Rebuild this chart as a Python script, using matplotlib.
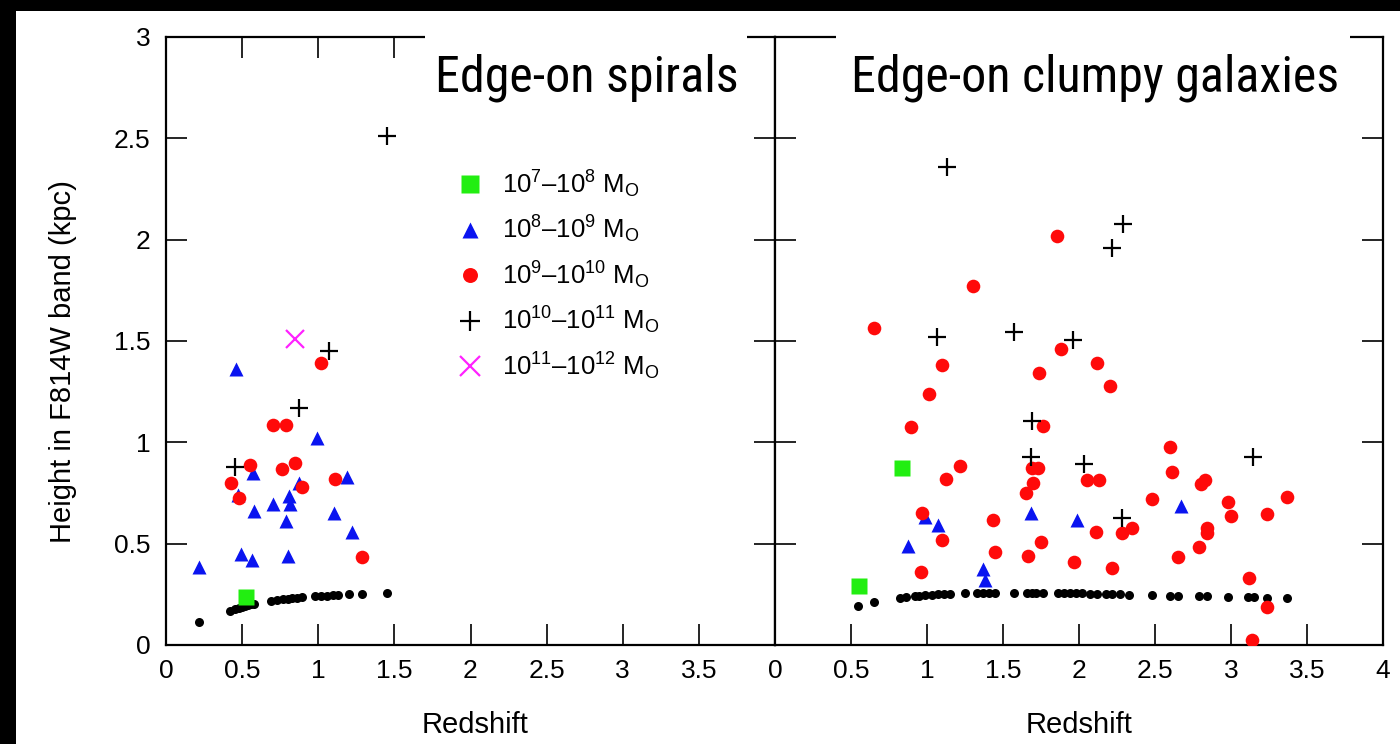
import numpy as np
import matplotlib
matplotlib.use("Agg")
import matplotlib.pyplot as plt
from matplotlib.patches import Rectangle

plt.rcParams['font.family'] = ['Liberation Sans', 'DejaVu Sans']
plt.rcParams['mathtext.fontset'] = 'custom'
plt.rcParams['mathtext.rm'] = 'Liberation Sans'

# ---- left panel: edge-on spirals ----
sp_dot_z = [0.22, 0.42, 0.45, 0.48, 0.50, 0.52, 0.54, 0.56, 0.58, 0.69, 0.73, 0.77,
            0.80, 0.83, 0.86, 0.89, 0.98, 1.02, 1.06, 1.10, 1.13, 1.20, 1.29, 1.45]
sp_dot_h = [0.115, 0.170, 0.178, 0.184, 0.188, 0.192, 0.196, 0.200, 0.203, 0.215, 0.220, 0.225,
            0.228, 0.231, 0.234, 0.236, 0.240, 0.242, 0.243, 0.245, 0.246, 0.250, 0.252, 0.256]
sp_m7_z = [0.525]
sp_m7_h = [0.235]
sp_m8_z = [0.46, 0.99, 0.57, 1.19, 0.875, 0.47, 0.70, 0.81, 0.815, 0.58, 1.105, 0.79, 1.22,
           0.49, 0.565, 0.80, 0.22]
sp_m8_h = [1.36, 1.02, 0.85, 0.83, 0.80, 0.74, 0.695, 0.735, 0.695, 0.66, 0.65, 0.61, 0.56,
           0.45, 0.42, 0.44, 0.385]
sp_m9_z = [1.02, 0.70, 0.79, 0.55, 0.76, 0.85, 1.11, 0.43, 0.895, 0.48, 1.29]
sp_m9_h = [1.39, 1.085, 1.085, 0.89, 0.87, 0.90, 0.82, 0.80, 0.78, 0.725, 0.435]
sp_m10_z = [1.07, 0.875, 0.45, 1.45]
sp_m10_h = [1.45, 1.17, 0.88, 2.51]
sp_m11_z = [0.85]
sp_m11_h = [1.51]

# ---- right panel: edge-on clumpy galaxies ----
cl_dot_z = [0.545, 0.65, 0.82, 0.86, 0.92, 0.95, 0.99, 1.03, 1.07, 1.11, 1.15, 1.25, 1.33, 1.37,
            1.41, 1.45, 1.57, 1.66, 1.69, 1.72, 1.76, 1.86, 1.90, 1.94, 1.98, 2.02, 2.07, 2.12,
            2.18, 2.22, 2.27, 2.33, 2.48, 2.60, 2.65, 2.79, 2.84, 2.98, 3.11, 3.15, 3.24, 3.37]
cl_dot_h = [0.19, 0.21, 0.23, 0.235, 0.24, 0.243, 0.245, 0.248, 0.25, 0.252, 0.253, 0.255, 0.256,
            0.257, 0.257, 0.257, 0.258, 0.258, 0.258, 0.258, 0.258, 0.257, 0.257, 0.256, 0.256,
            0.255, 0.254, 0.253, 0.252, 0.251, 0.250, 0.249, 0.247, 0.244, 0.243, 0.241, 0.240,
            0.238, 0.236, 0.235, 0.233, 0.230]
cl_m7_z = [0.835, 0.55]
cl_m7_h = [0.873, 0.29]
cl_m8_z = [0.99, 1.07, 1.685, 1.99, 0.875, 1.37, 1.38, 2.67]
cl_m8_h = [0.63, 0.59, 0.65, 0.615, 0.49, 0.375, 0.32, 0.686]
cl_m9_z = [1.30, 0.65, 1.88, 1.10, 1.74, 1.01, 0.895, 1.76, 1.22, 1.125, 1.69, 1.73, 2.05, 1.70,
           1.65, 0.97, 1.435, 1.10, 1.75, 1.45, 1.665, 1.97, 0.96, 1.855, 2.12, 2.205, 2.60,
           2.13, 2.61, 2.80, 2.83, 3.37, 2.48, 2.98, 3.00, 3.24, 2.11, 2.28, 2.35, 2.84, 2.84,
           2.22, 2.65, 2.79, 3.12, 3.24, 3.14]
cl_m9_h = [1.77, 1.565, 1.46, 1.38, 1.34, 1.24, 1.075, 1.08, 0.883, 0.82, 0.875, 0.875, 0.815,
           0.80, 0.75, 0.65, 0.615, 0.52, 0.51, 0.46, 0.44, 0.41, 0.36, 2.02, 1.39, 1.28, 0.977,
           0.815, 0.853, 0.795, 0.815, 0.73, 0.72, 0.705, 0.636, 0.646, 0.557, 0.552, 0.577,
           0.577, 0.552, 0.38, 0.434, 0.484, 0.33, 0.187, 0.025]
cl_m10_z = [1.13, 2.29, 2.22, 1.065, 1.57, 1.96, 1.69, 1.685, 2.03, 3.145, 2.28]
cl_m10_h = [2.36, 2.077, 1.96, 1.52, 1.545, 1.505, 1.105, 0.928, 0.893, 0.928, 0.627]

mass_labels = [r'$\mathregular{10^7}$–$\mathregular{10^8}$ $\mathregular{M_O}$',
               r'$\mathregular{10^8}$–$\mathregular{10^9}$ $\mathregular{M_O}$',
               r'$\mathregular{10^9}$–$\mathregular{10^{10}}$ $\mathregular{M_O}$',
               r'$\mathregular{10^{10}}$–$\mathregular{10^{11}}$ $\mathregular{M_O}$',
               r'$\mathregular{10^{11}}$–$\mathregular{10^{12}}$ $\mathregular{M_O}$']

fig = plt.figure(figsize=(14, 7.44), dpi=100)
W, H = 1400, 744
ax1 = fig.add_axes([166 / W, 99 / H, 609 / W, 608 / H])
ax2 = fig.add_axes([775 / W, 99 / H, 608 / W, 608 / H])


def draw(ax, dz, dh, z7, h7, z8, h8, z9, h9, z10, h10, z11=None, h11=None):
    ax.plot(dz, dh, 'o', color='black', ms=6.5, mec='none', zorder=2)
    ax.plot(z7, h7, 's', color='#22ee11', ms=12, mec='none', zorder=3, label=mass_labels[0])
    ax.plot(z8, h8, '^', color='#0a14f0', ms=10.5, mec='none', zorder=4, label=mass_labels[1])
    ax.plot(z9, h9, 'o', color='#ff0a0a', ms=9.8, mec='none', zorder=5, label=mass_labels[2])
    ax.plot(z10, h10, '+', color='black', ms=13, mew=1.6, zorder=6, label=mass_labels[3])
    if z11 is not None:
        ax.plot(z11, h11, 'x', color='#ff22ff', ms=13, mew=1.6, zorder=7, label=mass_labels[4])
    ax.set_xlim(0, 4)
    ax.set_ylim(0, 3)
    for s in ax.spines.values():
        s.set_linewidth(1.6)
    ax.tick_params(direction='in', length=15, width=1.2, top=True, right=True,
                   labelsize=19)
    ax.tick_params(axis='x', pad=10)
    ax.tick_params(axis='y', pad=11)
    ax.set_xlabel('Redshift', fontsize=21, labelpad=20)


draw(ax1, sp_dot_z, sp_dot_h, sp_m7_z, sp_m7_h, sp_m8_z, sp_m8_h, sp_m9_z, sp_m9_h,
     sp_m10_z, sp_m10_h, sp_m11_z, sp_m11_h)
draw(ax2, cl_dot_z, cl_dot_h, cl_m7_z, cl_m7_h, cl_m8_z, cl_m8_h, cl_m9_z, cl_m9_h,
     cl_m10_z, cl_m10_h)

ax1.set_xticks(np.arange(0, 4, 0.5))
ax1.set_xticklabels(['0', '0.5', '1', '1.5', '2', '2.5', '3', '3.5'])
ax1.set_yticks(np.arange(0, 3.01, 0.5))
ax1.set_yticklabels(['0', '0.5', '1', '1.5', '2', '2.5', '3'])
ax1.set_ylabel('Height in F814W band (kpc)', fontsize=21, labelpad=27)
ax1.yaxis.label.set_y(0.466)
ax1.xaxis.label.set_x(0.508)
ax2.set_xticks(np.arange(0, 4.01, 0.5))
ax2.set_xticklabels(['0', '0.5', '1', '1.5', '2', '2.5', '3', '3.5', '4'])
ax2.set_yticks(np.arange(0, 3.01, 0.5))
ax2.tick_params(labelleft=False)

ax1.legend(loc='upper left', bbox_to_anchor=(0.474, 0.784), frameon=False, fontsize=18.5,
           handlelength=1.2, handletextpad=0.65, labelspacing=0.55, borderaxespad=0,
           borderpad=0, markerscale=1.1)

# white boxes with the panel titles, and the black frame of the screenshot
fig.patches.append(Rectangle((425 / W, 1 - 118 / H), 322 / W, 106 / H, transform=fig.transFigure,
                             facecolor='white', edgecolor='none', zorder=10))
fig.patches.append(Rectangle((836 / W, 1 - 118 / H), 514 / W, 106 / H, transform=fig.transFigure,
                             facecolor='white', edgecolor='none', zorder=10))
title_font = ['Roboto Condensed', 'Liberation Sans Narrow', 'Lato']
fig.text(587 / W, 1 - 78 / H, 'Edge-on spirals', ha='center', va='center', fontsize=36,
         family=title_font, zorder=11)
fig.text(1095 / W, 1 - 78 / H, 'Edge-on clumpy galaxies', ha='center', va='center', fontsize=36,
         family=title_font, zorder=11)
fig.patches.append(Rectangle((0, 1 - 11 / H), 1, 11 / H, transform=fig.transFigure,
                             facecolor='black', edgecolor='none', zorder=12))
fig.patches.append(Rectangle((0, 0), 16 / W, 1, transform=fig.transFigure,
                             facecolor='black', edgecolor='none', zorder=12))

fig.savefig('out.png', dpi=100)
